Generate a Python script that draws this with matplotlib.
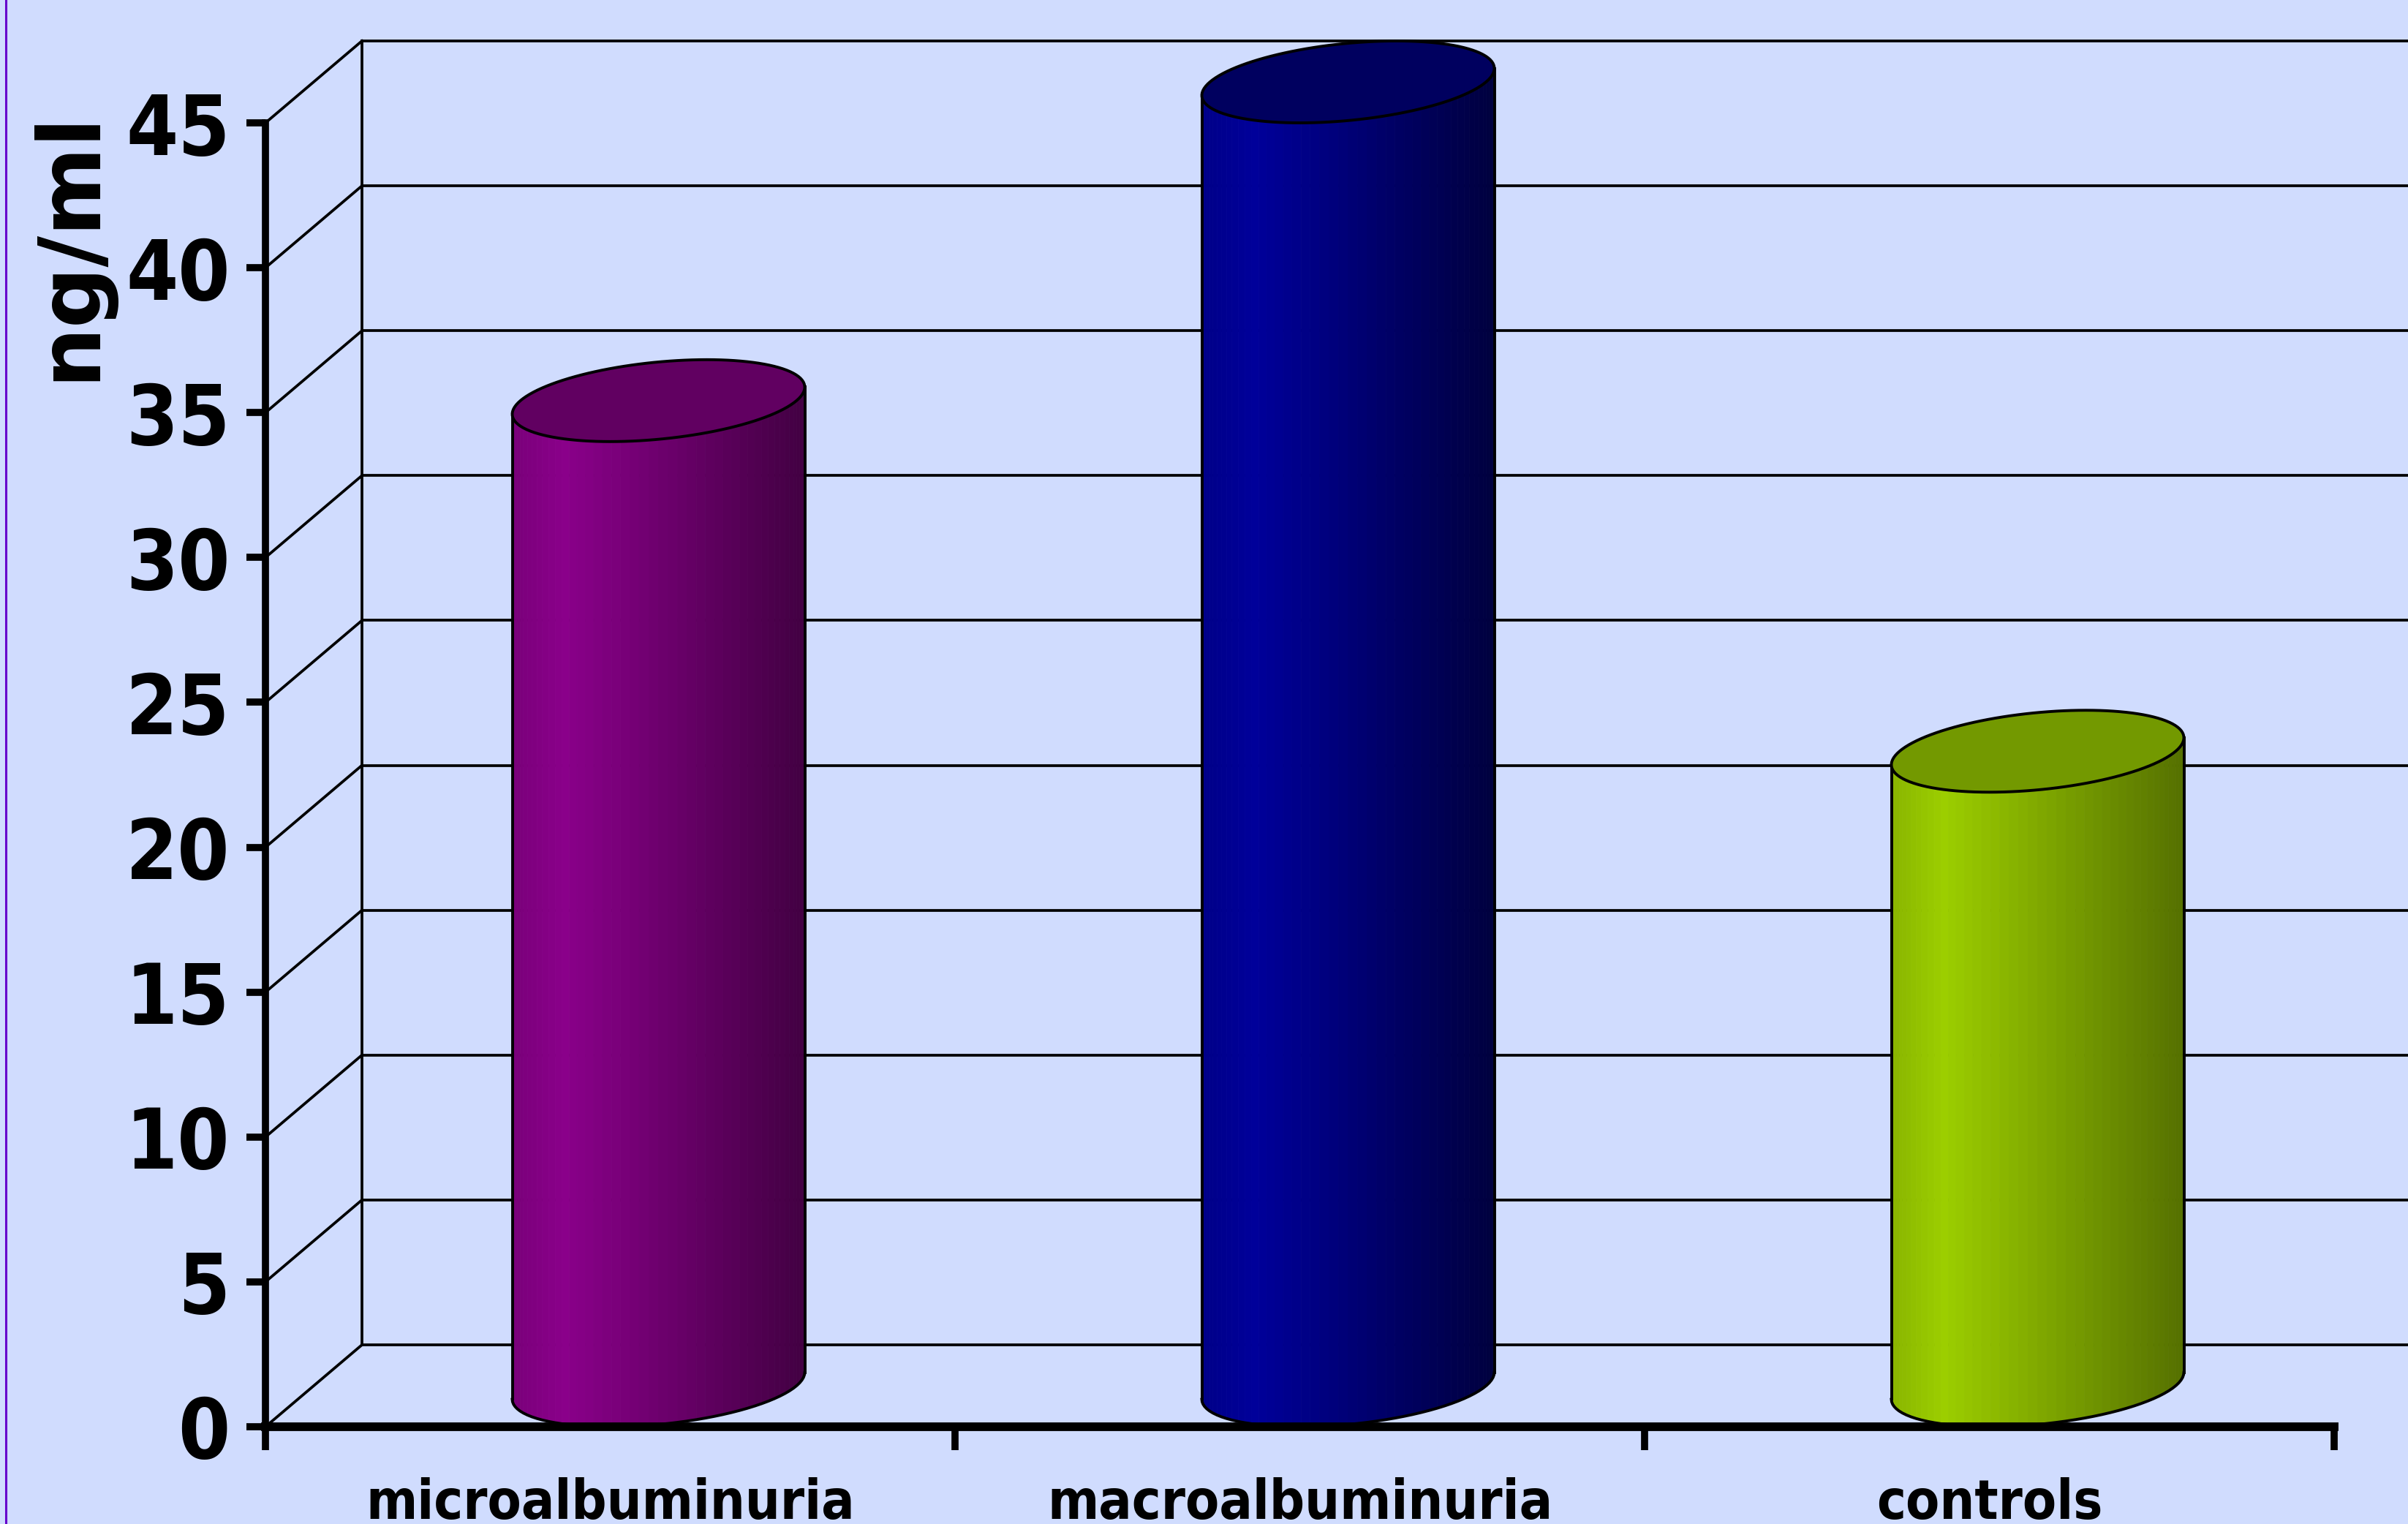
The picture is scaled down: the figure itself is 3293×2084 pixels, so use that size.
import numpy as np
import matplotlib
matplotlib.use('Agg')
import matplotlib.pyplot as plt
from matplotlib import font_manager as fm
from matplotlib.patches import Polygon
from matplotlib.lines import Line2D
from matplotlib.colors import to_rgb

# ---------------- data ----------------
categories = ['microalbuminuria', 'macroalbuminuria', 'controls']
values = [34.0, 45.0, 21.9]
ytick_values = [0, 5, 10, 15, 20, 25, 30, 35, 40, 45]
ytick_labels = ['0', '5', '10', '15', '20', '25', '30', '35', '40', '45']
y_label = 'ng/ml'

# ---------------- styles ----------------
side_light = ['#8A008A', '#00009A', '#9CCE00']
side_dark = ['#420042', '#00003E', '#557000']
top_colors = ['#610061', '#00005F', '#739900']
bg = '#D0DCFE'

W, H, DPI = 3293, 2084, 100
front_left_px = 363
front_right_px = 3192
zero_px = 1951
top_px = 168
depth_dx_px = 132
depth_dy_px = 112
cyl_halfwidth_px = 200

has_cond = any(f.name == 'DejaVu Sans' and str(f.stretch) in ('condensed', 'semi-condensed', '87', '75')
               for f in fm.fontManager.ttflist)
plt.rcParams['font.family'] = ['DejaVu Sans']
plt.rcParams['font.weight'] = 'bold'
stretch = 'condensed' if has_cond else 'normal'

n = len(categories)
cw = (front_right_px - front_left_px) / n
ymax = ytick_values[-1]
ypu = (zero_px - top_px) / ymax

fig = plt.figure(figsize=(W / DPI, H / DPI), dpi=DPI, facecolor=bg)
ax = fig.add_axes([0, 0, 1, 1])
ax.set_facecolor(bg)
x_left = -0.5
ax.set_xlim(x_left - front_left_px / cw, x_left + (W - front_left_px) / cw)
ax.set_ylim(-(H - zero_px) / ypu, ymax + top_px / ypu)
ddx = depth_dx_px / cw
ddy = depth_dy_px / ypu
xmax = ax.get_xlim()[1]

# ---------------- walls / gridlines ----------------
glw = 2.7
for yv in ytick_values:
    ax.plot([x_left, x_left + ddx], [yv, yv + ddy], color='black', lw=glw, zorder=1)
    ax.plot([x_left + ddx, xmax], [yv + ddy, yv + ddy], color='black', lw=glw, zorder=1)
ax.plot([x_left + ddx, x_left + ddx], [ddy, ymax + ddy], color='black', lw=glw, zorder=1)

# ---------------- cylinders ----------------
b = ddx / 2
R = cyl_halfwidth_px / cw
a = np.sqrt(R ** 2 - b ** 2)
t1 = np.arctan2(b, a)


def shade(f, light, dark):
    L = np.array(to_rgb(light))
    D = np.array(to_rgb(dark))
    if f < 0.18:
        col = L * (0.88 + 0.12 * f / 0.18)
    else:
        g = (f - 0.18) / 0.82
        col = L * (1 - g) + D * g
    return tuple(np.clip(col, 0, 1))


olw = 2.8
for i, v in enumerate(values):
    cx = i + b
    cy0 = ddy / 2
    cy1 = v + ddy / 2
    ts = np.linspace(np.pi + t1, 2 * np.pi + t1, 49)
    xs = cx + a * np.cos(ts) + b * np.sin(ts)
    yo = (ddy / 2) * np.sin(ts)
    f = (xs - xs.min()) / (xs.max() - xs.min())
    for k in range(len(ts) - 1):
        col = shade(0.5 * (f[k] + f[k + 1]), side_light[i], side_dark[i])
        poly = [(xs[k], cy0 + yo[k]), (xs[k + 1], cy0 + yo[k + 1]),
                (xs[k + 1], cy1 + yo[k + 1]), (xs[k], cy1 + yo[k])]
        ax.add_patch(Polygon(poly, closed=True, facecolor=col, edgecolor=col,
                             lw=0.6, zorder=3))
    # outline of side
    ax.plot(xs, cy0 + yo, color='black', lw=olw, zorder=4)
    ax.plot([xs[0], xs[0]], [cy0 + yo[0], cy1 + yo[0]], color='black', lw=olw, zorder=4)
    ax.plot([xs[-1], xs[-1]], [cy0 + yo[-1], cy1 + yo[-1]], color='black', lw=olw, zorder=4)
    # top ellipse
    tt = np.linspace(0, 2 * np.pi, 121)
    ex = cx + a * np.cos(tt) + b * np.sin(tt)
    ey = cy1 + (ddy / 2) * np.sin(tt)
    ax.add_patch(Polygon(np.column_stack([ex, ey]), closed=True, facecolor=top_colors[i],
                         edgecolor='black', lw=olw, zorder=5))

# ---------------- axes ----------------
ax.spines['top'].set_visible(False)
ax.spines['right'].set_visible(False)
ax.spines['left'].set_position(('data', x_left))
ax.spines['left'].set_bounds(0, ymax)
ax.spines['left'].set_linewidth(7)
ax.spines['left'].set_zorder(6)
ax.spines['bottom'].set_position(('data', 0))
ax.spines['bottom'].set_bounds(x_left, x_left + n)
ax.spines['bottom'].set_linewidth(8.5)
ax.spines['bottom'].set_zorder(6)

ax.set_yticks(ytick_values, ytick_labels)
ax.tick_params(axis='y', which='major', direction='out', length=19, width=7, pad=16,
               labelsize=82, colors='black')
for lbl in ax.get_yticklabels():
    lbl.set_fontstretch(stretch)
    lbl.set_fontweight('bold')

ax.set_xticks(np.arange(n + 1) + x_left)
ax.set_xticklabels([''] * (n + 1))
ax.set_xticks(np.arange(n), categories, minor=True)
ax.tick_params(axis='x', which='major', direction='out', length=23, width=7)
ax.tick_params(axis='x', which='minor', length=0, pad=50, labelsize=54)
for lbl in ax.get_xticklabels(minor=True):
    lbl.set_fontstretch(stretch)
    lbl.set_fontweight('bold')

ax.set_ylabel(y_label, fontsize=84, fontweight='bold', va='center')
ax.yaxis.set_label_coords(96 / W, 1 - 336 / H)

fig.add_artist(Line2D([8 / W, 8 / W], [0, 1], transform=fig.transFigure,
                      color='#6600CC', lw=2.2))

fig.savefig('out.png', dpi=DPI, facecolor=bg)
